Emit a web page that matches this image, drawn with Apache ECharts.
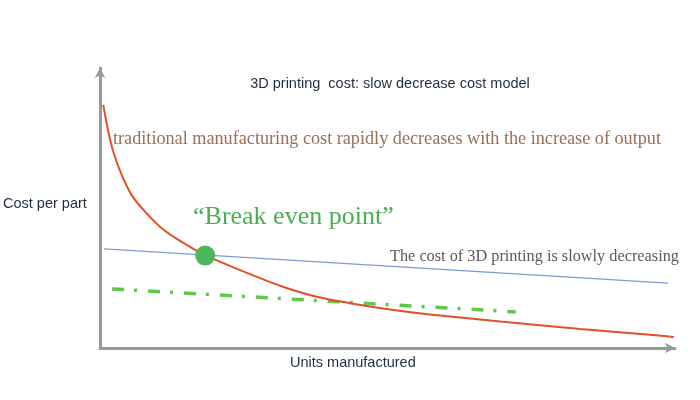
<!DOCTYPE html>
<html><head><meta charset="utf-8">
<script src="https://cdn.jsdelivr.net/npm/echarts@6/dist/echarts.min.js"></script>
<style>html,body{margin:0;padding:0;background:#fff}#c{width:700px;height:400px}</style>
</head><body><div id="c"></div>
<script>
// Traditional manufacturing cost curve (units, cost)
const tradX = [0.57, 1.44, 2.31, 3.77, 5.51, 7.83, 10.73, 14.21, 18.26, 26.1, 31.8, 37.7, 43.5, 49.2, 55.1, 60.9, 69.6, 83.5, 95.1, 99.8];
const tradY = [86.8, 77.3, 70.1, 61.8, 54.6, 48.7, 42.8, 37.9, 33.2, 26.4, 21.9, 18.3, 16.0, 14.1, 12.5, 11.25, 9.46, 6.79, 4.82, 3.93];
// 3D printing cost (slow decrease)
const printX = [0.7, 98.8];
const printY = [35.4, 23.2];
// Dash-dot green line
const dashX = [2.1, 72.3];
const dashY = [21.1, 12.9];
// Break even point
const breakX = [18.3];
const breakY = [33];

const zip = (xs, ys) => xs.map((x, i) => [x, ys[i]]);
const chart = echarts.init(document.getElementById('c'));
chart.setOption({
  backgroundColor: '#ffffff',
  animation: false,
  title: {
    text: '3D printing  cost: slow decrease cost model',
    left: 385, top: 71, textAlign: 'center',
    textStyle: {fontFamily: 'Liberation Sans', fontSize: 14.5, fontWeight: 'normal', color: '#1f2d3d'}
  },
  grid: {left: 100, top: 68, right: 25, bottom: 52},
  xAxis: {
    type: 'value', min: 0, max: 100,
    axisLine: {lineStyle: {color: '#999', width: 3}, symbol: ['none', 'arrow'], symbolSize: [8, 10]},
    axisTick: {show: false}, axisLabel: {show: false}, splitLine: {show: false}
  },
  yAxis: {
    type: 'value', min: 0, max: 100,
    axisLine: {lineStyle: {color: '#999', width: 3}, symbol: ['none', 'arrow'], symbolSize: [8, 10]},
    axisTick: {show: false}, axisLabel: {show: false}, splitLine: {show: false}
  },
  series: [
    {type: 'line', data: zip(printX, printY), showSymbol: false, lineStyle: {color: '#7a9bd0', width: 1.3}},
    {type: 'line', data: zip(dashX, dashY), showSymbol: false,
     lineStyle: {color: '#62c64a', width: 3.5, type: [12, 10, 3, 11]}},
    {type: 'line', data: zip(tradX, tradY), smooth: 0.3, showSymbol: false,
     lineStyle: {color: '#e0502a', width: 2}},
    {type: 'scatter', data: zip(breakX, breakY), symbolSize: 20, itemStyle: {color: '#4cb85a', opacity: 1}, z: 5}
  ],
  graphic: [
    {type: 'text', left: 3, top: 196, style: {text: 'Cost per part',
      font: '14.5px "Liberation Sans"', fill: '#1f2d3d'}},
    {type: 'text', left: 290, top: 355, style: {text: 'Units manufactured',
      font: '14.5px "Liberation Sans"', fill: '#1f2d3d'}},
    {type: 'text', left: 113, top: 130, style: {text: 'traditional manufacturing cost rapidly decreases with the increase of output',
      font: '18.2px "Liberation Serif"', fill: '#9b6e55'}},
    {type: 'text', left: 193, top: 204, style: {text: '\u201cBreak even point\u201d',
      font: '26px "Liberation Serif"', fill: '#4aae52'}},
    {type: 'text', left: 390, top: 249, style: {text: 'The cost of 3D printing is slowly decreasing',
      font: '16.3px "Liberation Serif"', fill: '#5a5a5a'}}
  ]
});
</script></body></html>
